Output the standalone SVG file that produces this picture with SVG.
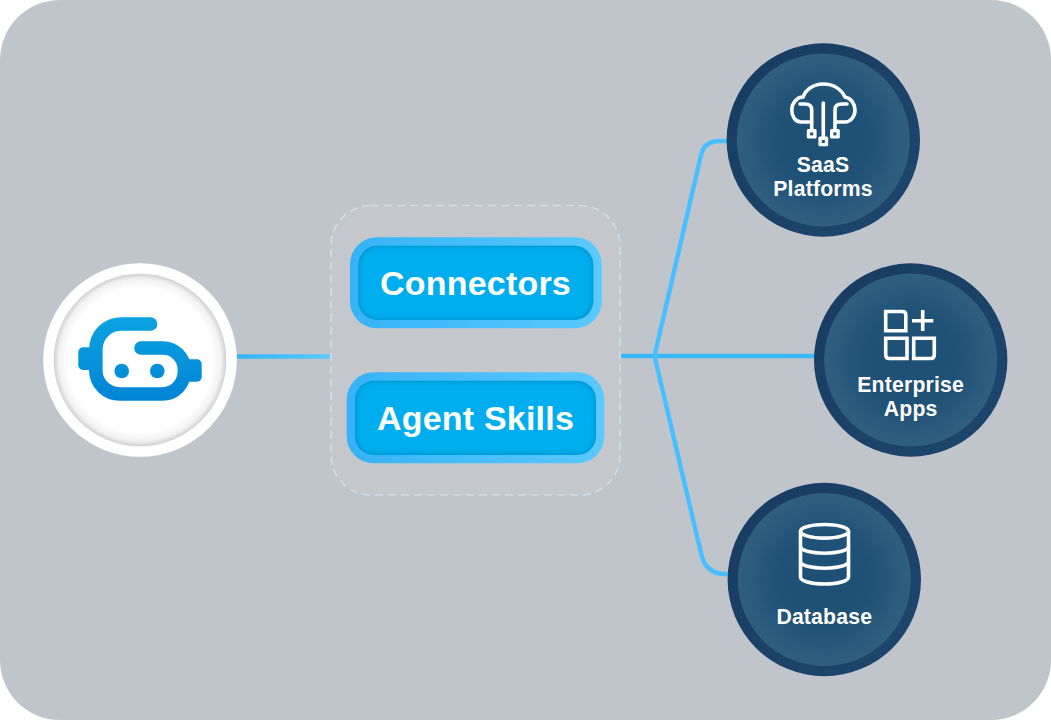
<svg xmlns="http://www.w3.org/2000/svg" width="1051" height="720" viewBox="0 0 1051 720">
  <style>
    text { font-family: "Liberation Sans", Arial, sans-serif; font-weight: 700; fill: #fff; text-anchor: middle; }
    .btn { font-size: 34px; letter-spacing: 0.2px; }
    .lbl { font-size: 21.2px; letter-spacing: 0.2px; }
    .conn { fill: none; stroke-width: 4.4; stroke-linejoin: round; }
    .ico { fill: none; stroke: #fff; stroke-width: 3.6; stroke-linecap: round; stroke-linejoin: round; }
    .sq { stroke-linejoin: miter; stroke-linecap: butt; }
    .ring { fill: url(#ringG); }
    .core { fill: url(#coreG); }
    .inner { fill: #00aeef; filter: url(#inset); }
    .outer { fill: url(#btnG); }
    .pad { fill: #fff; }
    .hole { fill: #1f5175; }
    .bot { fill: url(#botG); }
  </style>
  <defs>
    <linearGradient id="ringG" x1="0" y1="0" x2="1" y2="1">
      <stop offset="0" stop-color="#183c60"/>
      <stop offset="1" stop-color="#1e466d"/>
    </linearGradient>
    <radialGradient id="coreG" cx="0.5" cy="0.5" r="0.5">
      <stop offset="0" stop-color="#1e5075"/>
      <stop offset="0.55" stop-color="#205277"/>
      <stop offset="1" stop-color="#2f5e80"/>
    </radialGradient>
    <linearGradient id="btnG" x1="0" y1="0" x2="1" y2="0">
      <stop offset="0" stop-color="#36b3f6"/>
      <stop offset="1" stop-color="#5ac9ff"/>
    </linearGradient>
    <linearGradient id="lineL" gradientUnits="userSpaceOnUse" x1="237" y1="0" x2="331" y2="0">
      <stop offset="0" stop-color="#36b3f6"/>
      <stop offset="1" stop-color="#5ac9ff"/>
    </linearGradient>
    <radialGradient id="haloG" cx="0.5" cy="0.5" r="0.5">
      <stop offset="0" stop-color="#fff"/>
      <stop offset="0.84" stop-color="#fff"/>
      <stop offset="0.94" stop-color="#f2f2f2"/>
      <stop offset="1" stop-color="#d0d0d0"/>
    </radialGradient>
    <linearGradient id="botG" gradientUnits="userSpaceOnUse" x1="140" y1="317" x2="140" y2="401">
      <stop offset="0" stop-color="#0aa3e0"/>
      <stop offset="1" stop-color="#0284d6"/>
    </linearGradient>
    <filter id="inset" x="-5%" y="-10%" width="110%" height="120%">
      <feComponentTransfer in="SourceAlpha" result="inv"><feFuncA type="table" tableValues="1 0"/></feComponentTransfer>
      <feGaussianBlur in="inv" stdDeviation="3" result="blur"/>
      <feFlood flood-color="#0085bb"/>
      <feComposite in2="blur" operator="in" result="shade"/>
      <feComposite in="shade" in2="SourceAlpha" operator="in" result="clip"/>
      <feMerge><feMergeNode in="SourceGraphic"/><feMergeNode in="clip"/></feMerge>
    </filter>
  </defs>

  <rect id="background" width="1051" height="720" rx="60" ry="60" fill="#c0c5cc"/>

  <g id="connectors">
    <path class="conn" stroke="url(#lineL)" d="M237,356.5H331"/>
    <path class="conn" stroke="#3ab8fc" d="M621,356H815"/>
    <path class="conn" stroke="#48bffe" d="M654.5,356L701,155Q704,141 720,141H728"/>
    <path class="conn" stroke="#48bffe" d="M654.5,356L701,553Q705,573 724,574H729"/>
  </g>

  <g id="agent">
    <circle cx="140" cy="360" r="96.8" fill="#fff"/>
    <circle cx="140" cy="360" r="86.3" fill="url(#haloG)"/>
    <path class="bot" d="M92,347.3H83a4.7,4.7 0 0 0 -4.7,4.7V365.3a4.7,4.7 0 0 0 4.7,4.7H92Z"/>
    <path class="bot" d="M188,359.3H197a4.7,4.7 0 0 1 4.7,4.7V377a4.7,4.7 0 0 1 -4.7,4.7H188Z"/>
    <path d="M150.6,324H122C107,324 95.8,335 95.8,350V370C95.8,384 107,394 120,394H162C175,394 184.5,384 184.5,370C184.5,358 175,348 163,348H141" fill="none" stroke="url(#botG)" stroke-width="13.6" stroke-linecap="round"/>
    <circle class="bot" cx="121.7" cy="371" r="7.3"/>
    <circle class="bot" cx="157.3" cy="371" r="7.3"/>
  </g>

  <g id="skills-group">
    <rect x="331" y="205.5" width="289" height="289.5" rx="40" ry="40" fill="#c4c8cc" stroke="#d6dce4" stroke-width="1.6" stroke-dasharray="8 5"/>
  </g>

  <g id="node-connectors">
    <rect class="outer" x="350" y="237.3" width="251.7" height="91" rx="27"/>
    <rect class="inner" x="358.3" y="245.7" width="235" height="74.3" rx="19"/>
    <text class="btn" x="475.5" y="294.5">Connectors</text>
  </g>

  <g id="node-agent-skills">
    <rect class="outer" x="346.7" y="372.3" width="257.6" height="91" rx="27"/>
    <rect class="inner" x="355" y="380.7" width="241" height="74.3" rx="19"/>
    <text class="btn" x="475.5" y="429.5">Agent Skills</text>
  </g>

  <g id="node-saas">
    <circle class="ring" cx="823.3" cy="140" r="96.7"/>
    <circle class="core" cx="823.3" cy="140" r="86.5"/>
    <path class="ico" d="M809,122H801C795,122 791.8,116 791.8,110C791.8,103 797,97 803,97C806,89 814,84 823.3,84C833,84 841,89 845,97C851,98 855,104 855,110C855,116 851,122 845,122H837"/>
    <path class="ico" d="M800,104H805Q811.7,104 811.7,110V133"/>
    <path class="ico" d="M847,104H841.5Q835,104 835,110V133"/>
    <path class="ico" d="M823.3,103V140"/>
    <rect class="pad" x="806.8" y="129" width="9.8" height="9.6" rx="1.5"/>
    <rect class="hole" x="810.2" y="132.4" width="3" height="3"/>
    <rect class="pad" x="818.4" y="136.6" width="9.8" height="9.6" rx="1.5"/>
    <rect class="hole" x="821.8" y="140" width="3" height="3"/>
    <rect class="pad" x="830" y="129" width="9.8" height="9.6" rx="1.5"/>
    <rect class="hole" x="833.4" y="132.4" width="3" height="3"/>
    <text class="lbl" x="823" y="171.5">SaaS</text>
    <text class="lbl" x="823" y="195.7">Platforms</text>
  </g>

  <g id="node-enterprise">
    <circle class="ring" cx="910.7" cy="360" r="96.7"/>
    <circle class="core" cx="910.7" cy="360" r="86.5"/>
    <path class="ico sq" d="M885.7,311.5H902.5Q905.8,311.5 905.8,315V330.7H885.7Z"/>
    <path class="ico sq" d="M912,320.7H933.3M922.7,310V331"/>
    <path class="ico sq" d="M885.7,338.2H907V358.5H889.5Q885.7,358.5 885.7,354.7Z"/>
    <path class="ico sq" d="M913.7,338.2H934.3V354.7Q934.3,358.5 930.5,358.5H913.7Z"/>
    <text class="lbl" x="910.7" y="391.5">Enterprise</text>
    <text class="lbl" x="910.7" y="415.7">Apps</text>
  </g>

  <g id="node-database">
    <circle class="ring" cx="824.3" cy="579.5" r="96.7"/>
    <circle class="core" cx="824.3" cy="579.5" r="86.5"/>
    <ellipse class="ico" cx="824.5" cy="531.3" rx="24" ry="6.8"/>
    <path class="ico" d="M800.5,531.3V577C800.5,581 811,584 824.5,584C838,584 848.5,581 848.5,577V531.3"/>
    <path class="ico" d="M800.5,546.5C800.5,550.5 811,553.2 824.5,553.2C838,553.2 848.5,550.5 848.5,546.5"/>
    <path class="ico" d="M800.5,561.5C800.5,565.5 811,568.2 824.5,568.2C838,568.2 848.5,565.5 848.5,561.5"/>
    <text class="lbl" x="824.3" y="624.3">Database</text>
  </g>
</svg>
